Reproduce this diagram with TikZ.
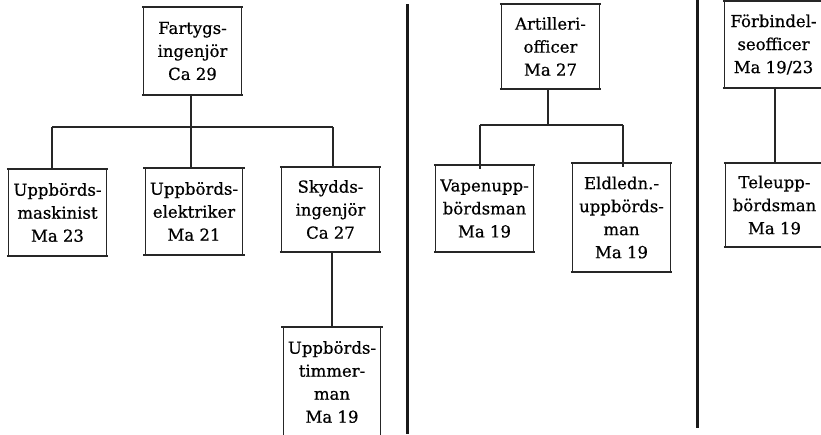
\documentclass[tikz,border=0pt]{standalone}
\usepackage{fontspec}
\setmainfont[FakeBold=0.6]{DejaVu Serif}

\tikzset{
  post/.style={minimum width=97pt, inner sep=0pt, align=center,
    font=\fontsize{16.5}{23}\selectfont},
  rim/.style={line width=1.8pt, color=black!85},
  side/.style={line width=1.2pt, color=black!85},
  link/.style={line width=1.3pt, color=black!85},
  split/.style={line width=3pt, color=black!90},
}

% frame of a post: heavy top and bottom, thin sides
\newcommand{\postframe}[1]{%
  \draw[rim] ([xshift=-2pt]#1.north west) -- ([xshift=2pt]#1.north east);
  \draw[rim] ([xshift=-2pt]#1.south west) -- ([xshift=2pt]#1.south east);
  \draw[side] (#1.north west) -- (#1.south west);
  \draw[side] (#1.north east) -- (#1.south east);}

\begin{document}
\begin{tikzpicture}[x=1pt, y=-1pt]
    \useasboundingbox (0,0) rectangle (821,434);
    \clip (0,0) rectangle (821,434);
    % ship engineer group
    \node[post, minimum height=88pt] (F) at (192.5,51) {Fartygs-\\ingenjör\\Ca 29};
    \node[post, minimum height=87pt] (M) at (57.5,212.5) {Uppbörds-\\maskinist\\Ma 23};
    \node[post, minimum height=87pt] (E) at (194,211.5) {Uppbörds-\\elektriker\\Ma 21};
    \node[post, minimum height=85pt] (S) at (330.5,209.5) {Skydds-\\ingenjör\\Ca 27};
    \node[post, minimum height=110pt] (T) at (332,382) {Uppbörds-\\timmer-\\man\\Ma 19};
    % artillery group
    \node[post, minimum height=85pt] (A) at (550.5,46.5) {Artilleri-\\officer\\Ma 27};
    \node[post, minimum height=87pt] (V) at (484.5,208.5) {Vapenupp-\\bördsman\\Ma 19};
    \node[post, minimum height=109pt] (L) at (621.5,217.5) {Eldledn.-\\uppbörds-\\man\\Ma 19};
    % signals group
    \node[post, minimum height=87pt] (B) at (773.5,44.5) {Förbindel-\\seofficer\\Ma 19/23};
    \node[post, minimum height=84pt] (U) at (774.5,205) {Teleupp-\\bördsman\\Ma 19};
    \foreach \p in {F,M,E,S,T,A,V,L,B,U} {\postframe{\p}}
    % connectors
    \coordinate (fbar) at (191,127);
    \coordinate (fbarL) at (52,127);
    \coordinate (fbarR) at (333,127);
    \draw[link] (F.south -| fbar) -- (fbar);
    \draw[link] (fbarL) -- (fbarR);
    \draw[link] (fbarL) -- (fbarL |- M.north);
    \draw[link] (fbar) -- (fbar |- E.north);
    \draw[link] (fbarR) -- (fbarR |- S.north);
    \coordinate (sdrop) at (332,0);
    \draw[link] (S.south -| sdrop) -- (T.north -| sdrop);
    \coordinate (abar) at (548,125);
    \coordinate (abarL) at (480,125);
    \coordinate (abarR) at (623,125);
    \draw[link] (A.south -| abar) -- (abar);
    \draw[link] (abarL) -- (abarR);
    \draw[link] (abarL) -- ([yshift=-4pt]abarL |- V.north);
    \draw[link] (abarR) -- ([yshift=-4pt]abarR |- L.north);
    \coordinate (bdrop) at (775,0);
    \draw[link] (B.south -| bdrop) -- (U.north -| bdrop);
    % dividers
    \coordinate (d1) at (407,4);
    \coordinate (d2) at (697,0);
    \draw[split] (d1) -- ++(0,430);
    \draw[split] (d2) -- ++(0,428);
\end{tikzpicture}
\end{document}
